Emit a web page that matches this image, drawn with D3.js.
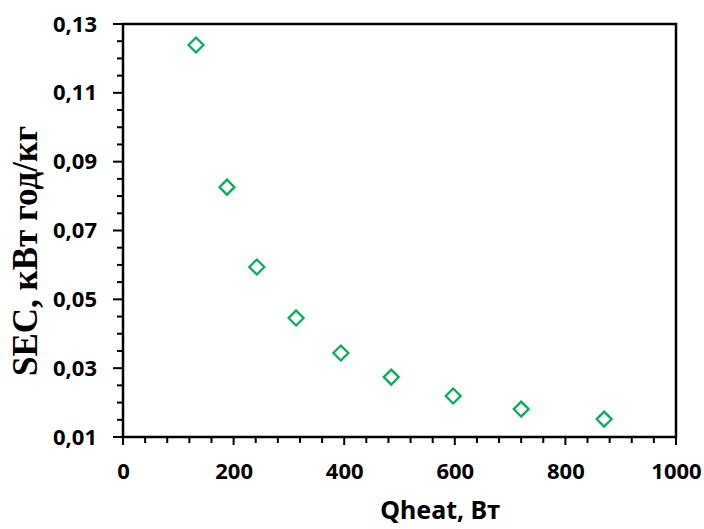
<!DOCTYPE html>
<html><head><meta charset="utf-8">
<script src="https://cdn.jsdelivr.net/npm/d3@7"></script>
<style>body{margin:0;background:#fff;} svg{display:block;}</style>
</head><body>
<svg id="c" width="704" height="529"></svg>
<script>
const qheat = [132, 188, 242, 313, 394, 485, 597, 720, 870];
const sec = [0.1239, 0.0826, 0.0594, 0.0446, 0.0344, 0.0274, 0.0219, 0.0181, 0.0152];
const xTicks = [0, 200, 400, 600, 800, 1000];
const yTicks = [0.01, 0.03, 0.05, 0.07, 0.09, 0.11, 0.13];
const xTitle = "Qheat, Вт";
const yTitle = "SEC, кВт год/кг";

const svg = d3.select("#c");
const L = 123, R = 676, T = 24, B = 437;
const x = d3.scaleLinear().domain([0, 1000]).range([L, R]);
const y = d3.scaleLinear().domain([0.01, 0.13]).range([B, T]);
const lblFont = "'Noto Sans', sans-serif";

// frame
svg.append("rect").attr("x", L).attr("y", T).attr("width", R - L).attr("height", B - T)
  .attr("fill", "none").attr("stroke", "#000").attr("stroke-width", 2.5);

const xMinor = d3.range(0, 1001, 40);
svg.append("g").selectAll("line").data(xMinor).join("line")
  .attr("x1", d => x(d)).attr("x2", d => x(d))
  .attr("y1", B).attr("y2", d => xTicks.includes(d) ? B + 8 : B + 6)
  .attr("stroke", "#000").attr("stroke-width", 2);
const yMinor = d3.range(0, 25).map(i => 0.01 + i * 0.005);
svg.append("g").selectAll("line").data(yMinor).join("line")
  .attr("y1", d => y(d)).attr("y2", d => y(d))
  .attr("x1", L).attr("x2", (d, i) => i % 4 === 0 ? L - 10 : L - 6)
  .attr("stroke", "#000").attr("stroke-width", 2);

const xa = svg.append("g").attr("transform", `translate(0,${B})`)
  .call(d3.axisBottom(x).tickValues(xTicks).tickSize(0).tickPadding(26).tickFormat(d3.format("d")));
xa.select(".domain").remove();
xa.selectAll("text").attr("font-family", lblFont).attr("font-weight", "bold").attr("font-size", 22).attr("fill", "#000");

const ya = svg.append("g").attr("transform", `translate(${L},0)`)
  .call(d3.axisLeft(y).tickValues(yTicks).tickSize(0).tickPadding(26).tickFormat(d => d.toFixed(2).replace(".", ",")));
ya.select(".domain").remove();
ya.selectAll("text").attr("font-family", lblFont).attr("font-weight", "bold").attr("font-size", 22).attr("fill", "#000");

svg.append("text").attr("x", 440).attr("y", 519).attr("text-anchor", "middle")
  .attr("font-family", lblFont).attr("font-weight", "bold").attr("font-size", 25).text(xTitle);
svg.append("text").attr("transform", "translate(37,251) rotate(-90)").attr("text-anchor", "middle")
  .attr("font-family", "'Liberation Serif', serif").attr("font-weight", "bold").attr("font-size", 35).text(yTitle);

const s = 7.5;
svg.append("g").selectAll("path").data(qheat.map((q, i) => [q, sec[i]])).join("path")
  .attr("d", d => `M${x(d[0])},${y(d[1]) - s}L${x(d[0]) + s},${y(d[1])}L${x(d[0])},${y(d[1]) + s}L${x(d[0]) - s},${y(d[1])}Z`)
  .attr("fill", "none").attr("stroke", "#00B050").attr("stroke-width", 2.2);
</script>
</body></html>
